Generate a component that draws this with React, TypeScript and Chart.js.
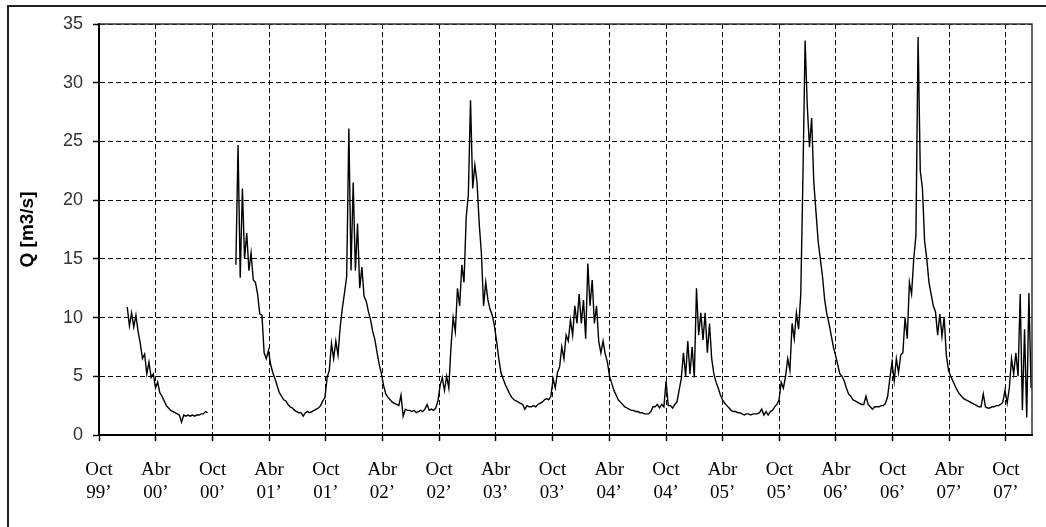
import React, { useEffect, useRef } from "react";
import { Chart, registerables } from "chart.js";

Chart.register(...registerables);

// ---- Data -------------------------------------------------------------
// Discharge Q [m3/s], one value every 7 days starting 1 Oct 1999 (null = no record)
const SERIES_START = "1999-10-01";
const AXIS_END = "2007-12-24";
const STEP_DAYS = 7;

const q_1999_2000 = [
  null, null, null, null, null, null, null, null, null, null, null, null, null,
  10.9, 9.3, 10.4, 9.2, 10.2, 8.8, 7.8, 6.5, 6.9, 5.2, 6.2, 4.9, 5.2, 4.0, 4.5, 3.6,
  3.3, 2.9, 2.5, 2.3, 2.1, 2.0, 1.9, 1.8, 1.7, 1.1, 1.7, 1.6, 1.7, 1.6, 1.7, 1.6,
  1.7, 1.7, 1.8, 1.8, 2.0, 1.9, null,
];
const q_2000_2001 = [
  null, null, null, null, null, null, null, null, null, null, null,
  14.5, 24.7, 13.4, 21.0, 15.0, 17.2, 14.0, 15.5, 13.2, 13.0, 12.0, 10.3, 10.2, 7.0,
  6.5, 7.2, 6.0, 5.3, 4.8, 4.2, 3.6, 3.3, 3.0, 2.9, 2.6, 2.4, 2.3, 2.1, 2.0, 1.9,
  1.9, 1.6, 1.9, 2.0, 1.9, 2.0, 2.1, 2.2, 2.3, 2.5, 2.9,
];
const q_2001_2002 = [
  3.2, 4.9, 5.5, 7.8, 6.5, 8.0, 6.8, 9.2, 10.8, 12.1,
  13.5, 26.1, 14.0, 21.5, 14.0, 18.0, 12.5, 14.3, 11.8, 11.4,
  10.5, 9.8, 8.8, 8.1, 7.0, 6.0, 5.2, 4.2, 3.5, 3.2,
  3.0, 2.8, 2.7, 2.6, 2.5, 3.4, 1.6, 2.2, 2.1, 2.1,
  2.0, 2.1, 1.9, 2.0, 2.1, 2.0, 2.2, 2.6, 2.1, 2.2,
  2.1, 2.3,
];
const q_2002_2003 = [
  2.9, 4.2, 4.9, 3.8, 5.0, 4.0, 7.5, 10.0, 8.8, 12.5,
  11.0, 14.5, 13.0, 18.5, 20.5, 28.5, 21.0, 23.0, 21.5, 18.0,
  15.5, 11.0, 13.0, 11.5, 10.7, 10.2, 9.3, 8.0, 6.5, 5.3,
  4.8, 4.3, 3.9, 3.5, 3.2, 3.0, 2.9, 2.8, 2.7, 2.6,
  2.2, 2.5, 2.4, 2.4, 2.5, 2.4, 2.6, 2.7, 2.8, 3.0,
  3.1, 3.0,
];
const q_2003_2004 = [
  3.3, 4.8, 4.0, 5.3, 5.8, 7.5, 6.5, 8.5, 8.0, 9.8,
  8.5, 11.0, 9.5, 12.0, 9.5, 11.5, 8.2, 14.6, 11.0, 13.2,
  9.5, 11.0, 8.0, 7.0, 8.0, 6.9, 6.2, 5.0, 4.4, 3.8,
  3.4, 3.0, 2.8, 2.6, 2.4, 2.3, 2.2, 2.1, 2.1, 2.0,
  2.0, 1.9, 1.9, 1.8, 1.8, 1.8, 2.0, 2.4, 2.4, 2.6,
  2.3, 2.6,
];
const q_2004_2005 = [
  2.4, 4.6, 2.5, 2.5, 2.3, 2.6, 2.8, 3.8, 4.8, 7.0,
  5.0, 8.0, 5.2, 7.5, 4.9, 12.5, 8.5, 10.4, 8.1, 10.4,
  7.0, 9.5, 6.5, 5.2, 4.5, 4.0, 3.4, 3.0, 2.7, 2.5,
  2.3, 2.1, 2.0, 2.0, 1.9, 1.9, 1.8, 1.7, 1.8, 1.8,
  1.7, 1.8, 1.8, 1.8, 1.9, 2.2, 1.7, 2.0, 1.7, 2.0,
  2.1, 2.4,
];
const q_2005_2006 = [
  2.6, 3.0, 4.5, 4.0, 5.0, 6.5, 5.5, 9.5, 8.2, 10.4,
  9.0, 12.0, 22.0, 33.6, 28.0, 24.5, 27.0, 21.5, 19.0, 16.5,
  15.0, 13.5, 11.5, 10.3, 9.5, 8.5, 7.5, 6.8, 6.0, 5.2,
  5.0, 4.6, 4.0, 3.5, 3.3, 3.0, 2.9, 2.8, 2.7, 2.6,
  2.6, 3.3, 2.6, 2.4, 2.2, 2.4, 2.4, 2.4, 2.5, 2.5,
  2.7, 3.3,
];
const q_2006_2007 = [
  4.8, 6.2, 4.6, 6.5, 5.3, 6.8, 7.0, 10.0, 8.2, 13.0,
  12.0, 15.0, 17.0, 33.9, 22.5, 21.0, 16.5, 15.0, 13.0, 12.0,
  11.0, 10.5, 8.5, 10.3, 8.4, 10.0, 6.8, 5.5, 5.0, 4.6,
  4.2, 3.8, 3.5, 3.3, 3.1, 3.0, 2.9, 2.8, 2.7, 2.6,
  2.5, 2.4, 2.4, 3.5, 2.4, 2.3, 2.3, 2.4, 2.4, 2.5,
  2.5, 2.6,
];
const q_2007_2008 = [
  2.8, 3.8, 2.7, 4.0, 6.5, 5.2, 7.0, 5.0, 12.0, 2.1, 9.0, 1.5, 12.1, 4.0,
];

// ---- Axis labels --------------------------------------------------------
const tickDates = [
  "1999-10-01", "2000-04-01", "2000-10-01", "2001-04-01", "2001-10-01",
  "2002-04-01", "2002-10-01", "2003-04-01", "2003-10-01", "2004-04-01",
  "2004-10-01", "2005-04-01", "2005-10-01", "2006-04-01", "2006-10-01",
  "2007-04-01", "2007-10-01",
];
const tickMonths = [
  "Oct", "Abr", "Oct", "Abr", "Oct", "Abr", "Oct", "Abr", "Oct",
  "Abr", "Oct", "Abr", "Oct", "Abr", "Oct", "Abr", "Oct",
];
const tickYears = [
  "99’", "00’", "00’", "01’", "01’", "02’", "02’", "03’", "03’",
  "04’", "04’", "05’", "05’", "06’", "06’", "07’", "07’",
];
const yAxisTitle = "Q [m3/s]";
const Y_MIN = 0;
const Y_MAX = 35;
const Y_STEP = 5;

export default function App() {
  const ref = useRef<HTMLCanvasElement>(null);

  useEffect(() => {
    const canvas = ref.current;
    if (!canvas) return;
    const startMs = Date.parse(SERIES_START);
    const toDay = (d: string) => (Date.parse(d) - startMs) / 86400000;
    const tickDays = tickDates.map(toDay);
    const flow = [
      ...q_1999_2000, ...q_2000_2001, ...q_2001_2002, ...q_2002_2003,
      ...q_2003_2004, ...q_2004_2005, ...q_2005_2006, ...q_2006_2007, ...q_2007_2008,
    ];
    const points = flow.map((q, i) => ({ x: i * STEP_DAYS, y: q }));

    const framePlugin = {
      id: "plotFrame",
      afterDatasetsDraw(chart: any) {
        const { ctx, chartArea } = chart;
        const { left, top, right, bottom } = chartArea;
        ctx.save();
        ctx.setLineDash([]);
        ctx.strokeStyle = "#333";
        ctx.lineWidth = 1.5;
        ctx.beginPath();
        ctx.moveTo(left, top);
        ctx.lineTo(right, top);
        ctx.lineTo(right, bottom);
        ctx.stroke();
        ctx.restore();
      },
    };

    const chart = new Chart(canvas, {
      type: "line",
      data: {
        datasets: [
          {
            data: points as any,
            borderColor: "#000",
            borderWidth: 1.4,
            pointRadius: 0,
            tension: 0,
            spanGaps: false,
            fill: false,
          },
        ],
      },
      options: {
        animation: false,
        responsive: false,
        maintainAspectRatio: false,
        layout: { padding: { left: 8, top: 24, right: 14, bottom: 0 } },
        plugins: {
          legend: { display: false },
          tooltip: { enabled: false },
        },
        scales: {
          x: {
            type: "linear",
            min: 0,
            max: toDay(AXIS_END),
            afterBuildTicks: (scale: any) => {
              scale.ticks = tickDays.map((v) => ({ value: v }));
            },
            afterFit: (scale: any) => {
              scale.height = 92;
            },
            ticks: {
              autoSkip: false,
              maxRotation: 0,
              minRotation: 0,
              padding: 17,
              color: "#000",
              font: { family: "'Liberation Serif', 'Times New Roman', serif", size: 19, lineHeight: 1.22 },
              callback: (_v: any, i: number) => [tickMonths[i], tickYears[i]],
            },
            grid: {
              color: "#000",
              lineWidth: 1,
              tickLength: 6,
              tickColor: "#000",
              tickWidth: 1.5,
            },
            border: { display: true, color: "#000", width: 2, dash: [5, 3] },
          },
          y: {
            min: Y_MIN,
            max: Y_MAX,
            afterFit: (scale: any) => {
              scale.width = 91;
            },
            ticks: {
              stepSize: Y_STEP,
              padding: 10,
              color: "#333",
              font: { family: "'Liberation Sans', Arial, sans-serif", size: 18 },
            },
            title: {
              display: true,
              text: yAxisTitle,
              color: "#000",
              padding: { top: 8, bottom: 0 },
              font: { family: "'Liberation Sans', Arial, sans-serif", size: 19, weight: "bold" },
            },
            grid: {
              color: "#000",
              lineWidth: 1,
              tickLength: 6,
              tickColor: "#000",
              tickWidth: 1.5,
            },
            border: { display: true, color: "#000", width: 2, dash: [5, 3] },
          },
        },
      } as any,
      plugins: [framePlugin],
    });
    return () => chart.destroy();
  }, []);

  return (
    <div style={{ position: "absolute", left: 0, top: 0, width: 1046, height: 527, background: "#fff" }}>
      <div style={{ position: "absolute", left: 7, top: 5, width: 2, height: 522, background: "#222" }} />
      <div style={{ position: "absolute", left: 7, top: 5, width: 1039, height: 2, background: "#222" }} />
      <canvas ref={ref} width={1046} height={527} style={{ position: "absolute", left: 0, top: 0 }} />
    </div>
  );
}
